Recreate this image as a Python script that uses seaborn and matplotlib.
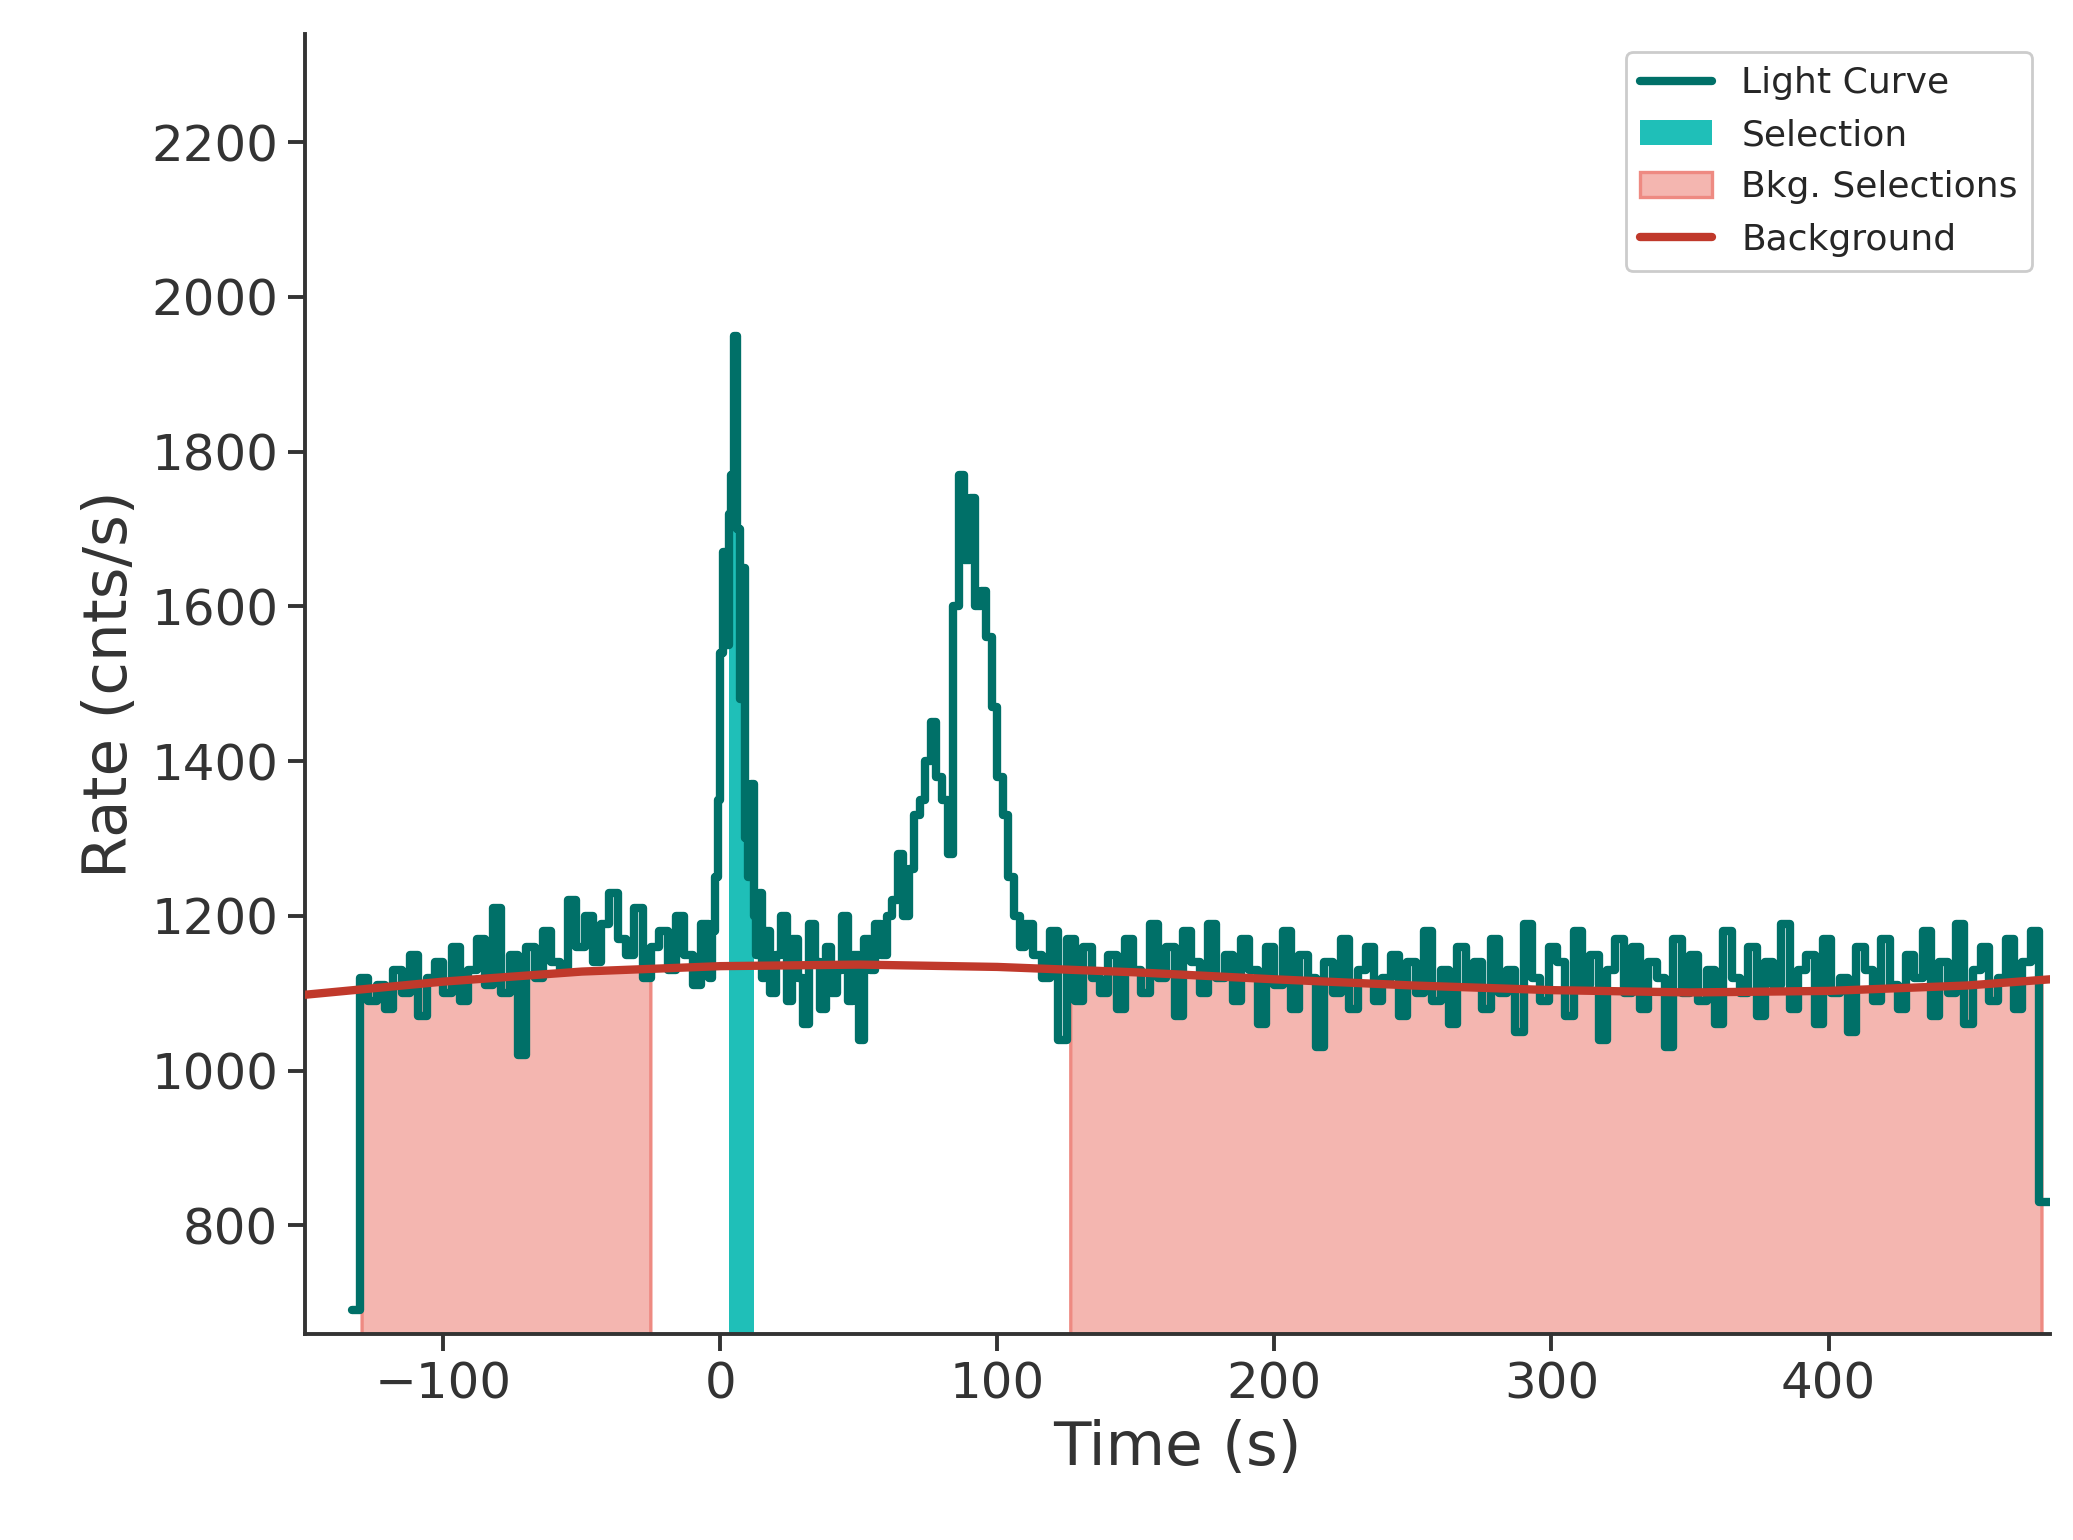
import numpy as np
import matplotlib
matplotlib.use("Agg")
import matplotlib.pyplot as plt
import seaborn as sns

# Light curve segments (rates in cnts/s)
pre_edges = (-133, -4, 3)
pre_rates = [690, 1120, 1090, 1110, 1080, 1130, 1100, 1150, 1070, 1120, 1140, 1100, 1160, 1090,
             1130, 1170, 1110, 1210, 1100, 1150, 1020, 1160, 1120, 1180, 1140, 1130, 1220, 1160,
             1200, 1140, 1190, 1230, 1170, 1150, 1210, 1120, 1160, 1180, 1130, 1200, 1150, 1110, 1190]
burst1_edges = (-4, 16, 1)
burst1_rates = [1120, 1180, 1250, 1350, 1540, 1670, 1550, 1720, 1770, 1950, 1700, 1480, 1650,
                1300, 1250, 1370, 1200, 1150, 1230, 1120]
mid_edges = (16, 60, 2)
mid_rates = [1180, 1100, 1150, 1200, 1090, 1170, 1120, 1060, 1190, 1140, 1080, 1160, 1100, 1130,
             1200, 1090, 1150, 1040, 1170, 1130, 1190, 1150]
burst2_edges = (60, 110, 2)
burst2_rates = [1200, 1220, 1280, 1200, 1260, 1330, 1350, 1400, 1450, 1380, 1350, 1280, 1600,
                1770, 1660, 1740, 1600, 1620, 1560, 1470, 1380, 1330, 1250, 1200, 1160]
post_edges = (110, 479, 3)
post_rates = [1190, 1150, 1120, 1180, 1040, 1170, 1090, 1160, 1120, 1100, 1150, 1080, 1170, 1130,
              1100, 1190, 1120, 1160, 1070, 1180, 1140, 1100, 1190, 1120, 1150, 1090, 1170, 1130,
              1060, 1160, 1110, 1180, 1080, 1150, 1120, 1030, 1140, 1100, 1170, 1080, 1130, 1160,
              1090, 1120, 1150, 1070, 1140, 1100, 1180, 1090, 1130, 1060, 1160, 1110, 1140, 1080,
              1170, 1100, 1130, 1050, 1190, 1120, 1090, 1160, 1140, 1070, 1180, 1110, 1150, 1040,
              1130, 1170, 1100, 1160, 1080, 1140, 1120, 1030, 1170, 1100, 1150, 1090, 1130, 1060,
              1180, 1120, 1100, 1160, 1070, 1140, 1110, 1190, 1080, 1130, 1150, 1060, 1170, 1100,
              1120, 1050, 1160, 1130, 1090, 1170, 1110, 1080, 1150, 1120, 1180, 1070, 1140, 1100,
              1190, 1060, 1130, 1160, 1090, 1120, 1170, 1080, 1140, 1180, 830]

# Background model knots
bkg_t = [-150, -100, -50, 0, 50, 100, 150, 200, 250, 300, 350, 400, 450, 480]
bkg_r = [1098, 1115, 1128, 1135, 1137, 1134, 1127, 1118, 1110, 1104, 1101, 1103, 1110, 1118]

sel_range = (3, 12)
bkg_ranges = [(-130, -24), (125, 478)]

segments = [(pre_edges, pre_rates), (burst1_edges, burst1_rates), (mid_edges, mid_rates),
            (burst2_edges, burst2_rates), (post_edges, post_rates)]
lo = []
rates = []
for (start, stop, step), r in segments:
    lo.extend(start + step * np.arange(len(r)))
    rates.extend(r)
lo = np.array(lo, float)
hi = np.append(lo[1:], 480.0)
rates = np.array(rates, float)

sns.set_style("ticks")
fig, ax = plt.subplots(figsize=(10.365, 7.7), dpi=200)

lc_color = "#007068"
ts = np.append(lo, hi[-1])
rs = np.append(rates, rates[-1])
ax.step(ts, rs, where="post", color=lc_color, lw=3, label="Light Curve", zorder=3)

# Selection
m = (lo >= sel_range[0]) & (hi <= sel_range[1])
ax.fill_between(np.append(lo[m], hi[m][-1]), 0, np.append(rates[m], rates[m][-1]),
                step="post", color="#1FBFB8", lw=0, label="Selection", zorder=2)

# Background selections
bt = np.linspace(-150, 480, 400)
br = np.interp(bt, bkg_t, bkg_r)
for i, (a, b) in enumerate(bkg_ranges):
    mm = (bt >= a) & (bt <= b)
    ax.fill_between(bt[mm], 0, br[mm], color="#F4B6B0", edgecolor="#EE8A82", lw=1.2,
                    label="Bkg. Selections" if i == 0 else None, zorder=1)
sns.lineplot(x=bkg_t, y=bkg_r, color="#C0392B", lw=3, label="Background", ax=ax, zorder=4)

ax.set_xlim(-150, 480)
ax.set_ylim(660, 2340)
ax.set_yticks([800, 1000, 1200, 1400, 1600, 1800, 2000, 2200])
ax.set_xlabel("Time (s)", fontsize=22, color="#333333")
ax.set_ylabel("Rate (cnts/s)", fontsize=22, color="#333333")
ax.tick_params(labelsize=18, colors="#333333", width=1.4, length=6)
for s in ["left", "bottom"]:
    ax.spines[s].set_color("#333333")
    ax.spines[s].set_linewidth(1.4)
sns.despine(ax=ax)
ax.legend(loc="upper right", fontsize=13, framealpha=1)

plt.subplots_adjust(left=0.147, right=0.989, top=0.978, bottom=0.134)
plt.savefig("out.png", dpi=200)
